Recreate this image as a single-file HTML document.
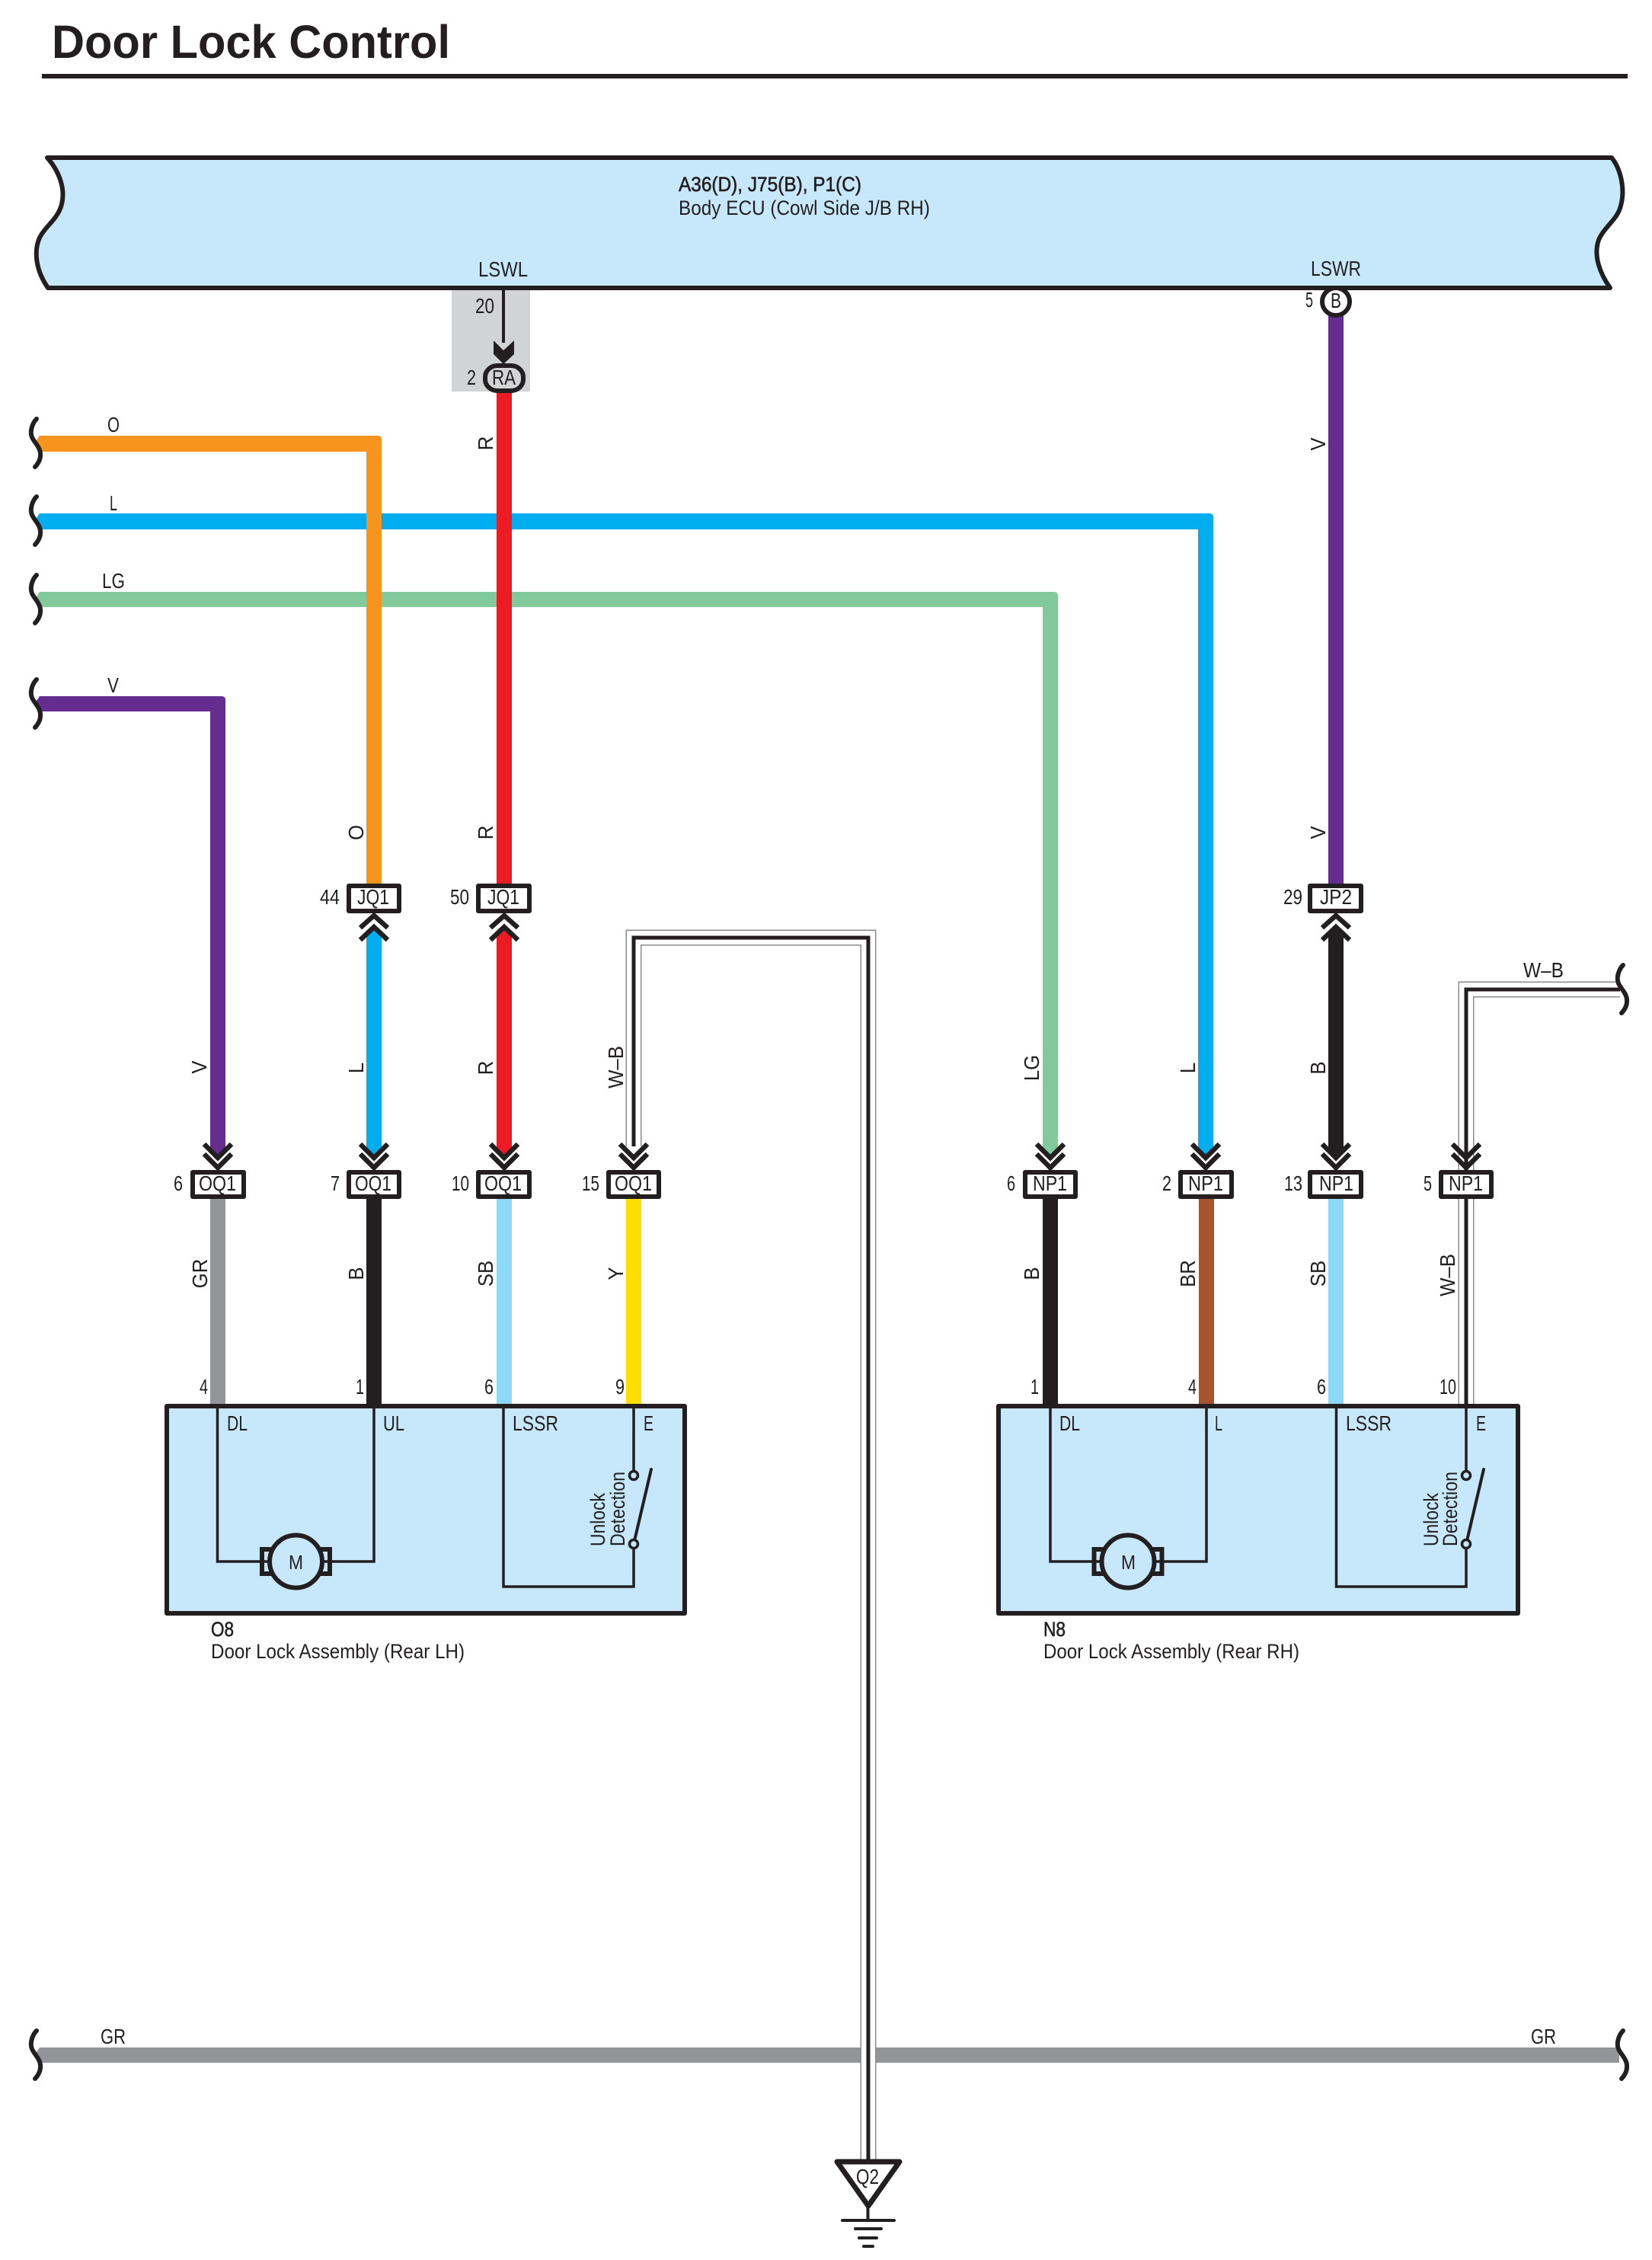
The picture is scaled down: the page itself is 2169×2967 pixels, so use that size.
<!DOCTYPE html>
<html lang="en">
<head>
<meta charset="utf-8">
<title>Door Lock Control</title>
<style>
html,body{margin:0;padding:0;background:#fff}
svg{display:block}
text{font-family:"Liberation Sans",Arial,sans-serif;font-size:28px;fill:#231f20}
</style>
</head>
<body>
<svg xmlns="http://www.w3.org/2000/svg" width="2169" height="2967" viewBox="0 0 2169 2967">
<defs>
<g id="dn" fill="none" stroke="#231f20" stroke-width="6.500"><polyline points="-18,1502 0,1520 18,1502"/><polyline points="-18,1515 0,1533 18,1515"/></g>
<g id="up" fill="none" stroke="#231f20" stroke-width="6.500"><polyline points="-18,1218 0,1202 18,1218"/><polyline points="-18,1234 0,1217 18,1234"/></g>
<path id="sq" fill="none" stroke="#231f20" stroke-width="6" stroke-linecap="round" d="M48 -32 C42 -26 39 -15 42 -8 C45 -1 54 6 53 16 C53 22 49 28 46 31"/>
<g id="motor">
<rect x="-44.500" y="-16" width="89" height="32" fill="none" stroke="#231f20" stroke-width="6"/>
<ellipse rx="34.500" ry="34.500" fill="#c7e8fb" stroke="#231f20" stroke-width="6"/>
</g>
</defs>

<!-- Title -->
<text x="68" y="76" font-weight="bold" style="font-size:61px" textLength="523" lengthAdjust="spacingAndGlyphs">Door Lock Control</text>
<rect x="55" y="97" width="2082" height="6" fill="#231f20"/>

<!-- Body ECU -->
<rect x="593" y="381" width="103" height="133" fill="#d1d3d4"/>
<path d="M62 207 H2116 C2128 222 2134 248 2128 270 C2124 288 2106 298 2099 315 C2092 335 2100 358 2114 378 H63 C47 355 44 330 52 312 C60 296 76 288 81 268 C86 248 78 225 62 207 Z" fill="#c7e8fb" stroke="#231f20" stroke-width="6" stroke-linejoin="round"/>
<text x="891" y="251" stroke="#231f20" stroke-width="0.6" style="font-size:27px" textLength="240" lengthAdjust="spacingAndGlyphs">A36(D), J75(B), P1(C)</text>
<text x="891" y="282" style="font-size:27px" textLength="330" lengthAdjust="spacingAndGlyphs">Body ECU (Cowl Side J/B RH)</text>
<text x="628" y="363" textLength="65" lengthAdjust="spacingAndGlyphs">LSWL</text>
<text x="1721" y="362" textLength="66" lengthAdjust="spacingAndGlyphs">LSWR</text>

<text x="624" y="411" textLength="25" lengthAdjust="spacingAndGlyphs">20</text>
<line x1="661" y1="381" x2="661" y2="450" stroke="#231f20" stroke-width="4"/>
<polygon points="648,447 661,460 675,447 675,465 661,478 648,465" fill="#231f20"/>

<!-- horizontal wires first -->
<path d="M52 674 H1588 Q1593 674 1593 679 V1506 L1583 1519 L1573 1506 V695 H54 L48 680 Z" fill="#00aeef"/>
<path d="M52 777 H1384 Q1389 777 1389 782 V1506 L1379 1519 L1369 1506 V797 H54 L48 783 Z" fill="#82ca9c"/>
<path d="M52 914 H291 Q296 914 296 919 V1506 L286 1519 L276 1506 V934 H54 L48 920 Z" fill="#662d91"/>
<path d="M52 572 H496 Q501 572 501 577 V1165 H481 V593 H54 L48 578 Z" fill="#f7941d"/>
<rect x="652" y="512" width="20" height="655" fill="#ed1c24"/>
<rect x="1744" y="410" width="20" height="755" fill="#662d91"/>
<path d="M52 2688 H2126 V2708 H54 L48 2694 Z" fill="#939598"/>

<!-- squiggles -->
<use href="#sq" transform="translate(0,582)"/>
<use href="#sq" transform="translate(0,684)"/>
<use href="#sq" transform="translate(0,787)"/>
<use href="#sq" transform="translate(0,924)"/>
<use href="#sq" transform="translate(0,2698)"/>
<use href="#sq" transform="translate(2083,2698)"/>

<!-- RA / B terminals -->
<rect x="637" y="480" width="50" height="33" rx="16" ry="15" fill="#d1d3d4" stroke="#231f20" stroke-width="6"/>
<text x="646" y="505" textLength="31" lengthAdjust="spacingAndGlyphs">RA</text>
<text x="613" y="505" textLength="12" lengthAdjust="spacingAndGlyphs">2</text>
<circle cx="1754" cy="396" r="18" fill="#fff" stroke="#231f20" stroke-width="6"/>
<text x="1747" y="404" textLength="14" lengthAdjust="spacingAndGlyphs">B</text>
<text x="1714" y="403" textLength="10" lengthAdjust="spacingAndGlyphs">5</text>

<!-- mid wires between J and O/N connectors -->
<path d="M481 1230 L491 1221 L501 1230 V1506 L491 1519 L481 1506 Z" fill="#00aeef"/>
<path d="M652 1230 L662 1221 L672 1230 V1506 L662 1519 L652 1506 Z" fill="#ed1c24"/>
<path d="M1744 1225 L1754 1213 L1764 1225 V1506 L1754 1519 L1744 1506 Z" fill="#231f20"/>

<!-- W-B wires -->
<g fill="none" stroke-linejoin="miter">
<path d="M832 1505 V1231 H1140 V2838" stroke="#8a8c8e" stroke-width="21"/>
<path d="M832 1505 V1231 H1140 V2838" stroke="#fff" stroke-width="18"/>
<path d="M832 1505 V1231 H1140 V2838" stroke="#231f20" stroke-width="5"/>
<path d="M2127 1299 H1925 V1845" stroke="#8a8c8e" stroke-width="21"/>
<path d="M2127 1299 H1925 V1845" stroke="#fff" stroke-width="18"/>
<path d="M2127 1299 H1925 V1845" stroke="#231f20" stroke-width="5"/>
</g>
<use href="#sq" transform="translate(2083,1299)"/>

<!-- chevrons -->
<use href="#dn" x="286"/><use href="#dn" x="491"/><use href="#dn" x="662"/><use href="#dn" x="832"/>
<use href="#dn" x="1379"/><use href="#dn" x="1583"/><use href="#dn" x="1754"/><use href="#dn" x="1925"/>
<use href="#up" x="491"/><use href="#up" x="662"/><use href="#up" x="1754"/>

<!-- stubs below connectors -->
<rect x="276" y="1570" width="20" height="276" fill="#939598"/>
<rect x="481" y="1570" width="20" height="276" fill="#231f20"/>
<rect x="652" y="1570" width="20" height="276" fill="#8dd7f7"/>
<rect x="822" y="1570" width="20" height="276" fill="#ffde00"/>
<rect x="1369" y="1570" width="20" height="276" fill="#231f20"/>
<rect x="1574" y="1570" width="20" height="276" fill="#a7532f"/>
<rect x="1744" y="1570" width="20" height="276" fill="#8dd7f7"/>

<!-- connectors -->
<g fill="#fff" stroke="#231f20" stroke-width="6" stroke-linejoin="round">
<rect x="458" y="1163" width="66" height="33"/>
<rect x="628" y="1163" width="67" height="33"/>
<rect x="1720" y="1163" width="67" height="33"/>
<rect x="253" y="1539" width="67" height="32"/>
<rect x="458" y="1539" width="66" height="32"/>
<rect x="628" y="1539" width="67" height="32"/>
<rect x="799" y="1539" width="66" height="32"/>
<rect x="1346" y="1539" width="66" height="32"/>
<rect x="1550" y="1539" width="67" height="32"/>
<rect x="1720" y="1539" width="67" height="32"/>
<rect x="1892" y="1539" width="66" height="32"/>
</g>
<text x="469" y="1187" textLength="42" lengthAdjust="spacingAndGlyphs">JQ1</text>
<text x="640" y="1187" textLength="42" lengthAdjust="spacingAndGlyphs">JQ1</text>
<text x="1733" y="1187" textLength="42" lengthAdjust="spacingAndGlyphs">JP2</text>
<text x="420" y="1187" textLength="26" lengthAdjust="spacingAndGlyphs">44</text>
<text x="591" y="1187" textLength="25" lengthAdjust="spacingAndGlyphs">50</text>
<text x="1685" y="1187" textLength="25" lengthAdjust="spacingAndGlyphs">29</text>
<text x="261" y="1563" textLength="49" lengthAdjust="spacingAndGlyphs">OQ1</text>
<text x="466" y="1563" textLength="48" lengthAdjust="spacingAndGlyphs">OQ1</text>
<text x="636" y="1563" textLength="49" lengthAdjust="spacingAndGlyphs">OQ1</text>
<text x="807" y="1563" textLength="49" lengthAdjust="spacingAndGlyphs">OQ1</text>
<text x="1356" y="1563" textLength="45" lengthAdjust="spacingAndGlyphs">NP1</text>
<text x="1560" y="1563" textLength="46" lengthAdjust="spacingAndGlyphs">NP1</text>
<text x="1732" y="1563" textLength="45" lengthAdjust="spacingAndGlyphs">NP1</text>
<text x="1902" y="1563" textLength="45" lengthAdjust="spacingAndGlyphs">NP1</text>
<text x="228" y="1563" textLength="12" lengthAdjust="spacingAndGlyphs">6</text>
<text x="434" y="1563" textLength="12" lengthAdjust="spacingAndGlyphs">7</text>
<text x="593" y="1563" textLength="23" lengthAdjust="spacingAndGlyphs">10</text>
<text x="764" y="1563" textLength="23" lengthAdjust="spacingAndGlyphs">15</text>
<text x="1322" y="1563" textLength="11" lengthAdjust="spacingAndGlyphs">6</text>
<text x="1526" y="1563" textLength="12" lengthAdjust="spacingAndGlyphs">2</text>
<text x="1686" y="1563" textLength="24" lengthAdjust="spacingAndGlyphs">13</text>
<text x="1869" y="1563" textLength="11" lengthAdjust="spacingAndGlyphs">5</text>

<!-- wire labels horizontal -->
<text x="141" y="567" textLength="16" lengthAdjust="spacingAndGlyphs">O</text>
<text x="144" y="670" textLength="10" lengthAdjust="spacingAndGlyphs">L</text>
<text x="134" y="772" textLength="30" lengthAdjust="spacingAndGlyphs">LG</text>
<text x="141" y="909" textLength="15" lengthAdjust="spacingAndGlyphs">V</text>
<text x="132" y="2683" textLength="33" lengthAdjust="spacingAndGlyphs">GR</text>
<text x="2010" y="2683" textLength="33" lengthAdjust="spacingAndGlyphs">GR</text>
<text x="2000" y="1283" textLength="53" lengthAdjust="spacingAndGlyphs">W–B</text>

<!-- wire labels rotated -->
<g text-anchor="middle">
<text transform="translate(647,582) rotate(-90) scale(.92,1)">R</text>
<text transform="translate(1740,583) rotate(-90) scale(.92,1)">V</text>
<text transform="translate(477,1093) rotate(-90) scale(.92,1)">O</text>
<text transform="translate(647,1093) rotate(-90) scale(.92,1)">R</text>
<text transform="translate(1740,1093) rotate(-90) scale(.92,1)">V</text>
<text transform="translate(271,1401) rotate(-90) scale(.92,1)">V</text>
<text transform="translate(477,1402) rotate(-90) scale(.92,1)">L</text>
<text transform="translate(647,1402) rotate(-90) scale(.92,1)">R</text>
<text transform="translate(818,1401) rotate(-90) scale(.92,1)">W–B</text>
<text transform="translate(1364,1402) rotate(-90) scale(.92,1)">LG</text>
<text transform="translate(1569,1402) rotate(-90) scale(.92,1)">L</text>
<text transform="translate(1740,1402) rotate(-90) scale(.92,1)">B</text>
<text transform="translate(272,1672) rotate(-90) scale(.92,1)">GR</text>
<text transform="translate(477,1672) rotate(-90) scale(.92,1)">B</text>
<text transform="translate(647,1672) rotate(-90) scale(.92,1)">SB</text>
<text transform="translate(818,1672) rotate(-90) scale(.92,1)">Y</text>
<text transform="translate(1364,1672) rotate(-90) scale(.92,1)">B</text>
<text transform="translate(1569,1672) rotate(-90) scale(.92,1)">BR</text>
<text transform="translate(1740,1672) rotate(-90) scale(.92,1)">SB</text>
<text transform="translate(1910,1674) rotate(-90) scale(.92,1)">W–B</text>
</g>

<!-- pin numbers above boxes -->
<text x="262" y="1830" textLength="11" lengthAdjust="spacingAndGlyphs">4</text>
<text x="467" y="1830" textLength="11" lengthAdjust="spacingAndGlyphs">1</text>
<text x="636" y="1830" textLength="12" lengthAdjust="spacingAndGlyphs">6</text>
<text x="808" y="1830" textLength="12" lengthAdjust="spacingAndGlyphs">9</text>
<text x="1353" y="1830" textLength="11" lengthAdjust="spacingAndGlyphs">1</text>
<text x="1560" y="1830" textLength="11" lengthAdjust="spacingAndGlyphs">4</text>
<text x="1729" y="1830" textLength="12" lengthAdjust="spacingAndGlyphs">6</text>
<text x="1890" y="1830" textLength="22" lengthAdjust="spacingAndGlyphs">10</text>

<!-- O8 box -->
<rect x="219" y="1846" width="680" height="272" fill="#c7e8fb" stroke="#231f20" stroke-width="6" stroke-linejoin="round"/>
<g fill="none" stroke="#231f20" stroke-width="3.500">
<path d="M285.500 1846 V2050 H491 V1846"/>
<path d="M661 1846 V2083 H832 V1846"/>
</g>
<use href="#motor" transform="translate(388.500,2050)"/>
<text x="379" y="2060" style="font-size:26px" textLength="19" lengthAdjust="spacingAndGlyphs">M</text>
<rect x="826" y="1941" width="12" height="82" fill="#c7e8fb"/>
<line x1="832" y1="2027" x2="855" y2="1929" stroke="#231f20" stroke-width="4" stroke-linecap="round"/>
<circle cx="832" cy="1937" r="5.500" fill="#c7e8fb" stroke="#231f20" stroke-width="3.500"/>
<circle cx="832" cy="2027" r="5.500" fill="#c7e8fb" stroke="#231f20" stroke-width="3.500"/>
<text x="298" y="1878" textLength="27" lengthAdjust="spacingAndGlyphs">DL</text>
<text x="503" y="1878" textLength="28" lengthAdjust="spacingAndGlyphs">UL</text>
<text x="673" y="1878" textLength="60" lengthAdjust="spacingAndGlyphs">LSSR</text>
<text x="845" y="1878" textLength="13" lengthAdjust="spacingAndGlyphs">E</text>
<text transform="translate(794,2030) rotate(-90)" style="font-size:27px" textLength="70" lengthAdjust="spacingAndGlyphs">Unlock</text>
<text transform="translate(820,2030) rotate(-90)" style="font-size:27px" textLength="98" lengthAdjust="spacingAndGlyphs">Detection</text>
<text x="277" y="2148" stroke="#231f20" stroke-width="0.6" style="font-size:27px" textLength="30" lengthAdjust="spacingAndGlyphs">O8</text>
<text x="277" y="2177" style="font-size:27px" textLength="333" lengthAdjust="spacingAndGlyphs">Door Lock Assembly (Rear LH)</text>

<!-- N8 box -->
<rect x="1311" y="1846" width="682" height="272" fill="#c7e8fb" stroke="#231f20" stroke-width="6" stroke-linejoin="round"/>
<g fill="none" stroke="#231f20" stroke-width="3.500">
<path d="M1379 1846 V2050 H1584 V1846"/>
<path d="M1754.500 1846 V2083 H1925 V1846"/>
</g>
<use href="#motor" transform="translate(1481,2050)"/>
<text x="1472" y="2060" style="font-size:26px" textLength="19" lengthAdjust="spacingAndGlyphs">M</text>
<rect x="1919" y="1941" width="12" height="82" fill="#c7e8fb"/>
<line x1="1925" y1="2027" x2="1948" y2="1929" stroke="#231f20" stroke-width="4" stroke-linecap="round"/>
<circle cx="1925" cy="1937" r="5.500" fill="#c7e8fb" stroke="#231f20" stroke-width="3.500"/>
<circle cx="1925" cy="2027" r="5.500" fill="#c7e8fb" stroke="#231f20" stroke-width="3.500"/>
<text x="1391" y="1878" textLength="27" lengthAdjust="spacingAndGlyphs">DL</text>
<text x="1595" y="1878" textLength="10" lengthAdjust="spacingAndGlyphs">L</text>
<text x="1767" y="1878" textLength="60" lengthAdjust="spacingAndGlyphs">LSSR</text>
<text x="1938" y="1878" textLength="13" lengthAdjust="spacingAndGlyphs">E</text>
<text transform="translate(1888,2030) rotate(-90)" style="font-size:27px" textLength="70" lengthAdjust="spacingAndGlyphs">Unlock</text>
<text transform="translate(1913,2030) rotate(-90)" style="font-size:27px" textLength="98" lengthAdjust="spacingAndGlyphs">Detection</text>
<text x="1370" y="2148" stroke="#231f20" stroke-width="0.6" style="font-size:27px" textLength="29" lengthAdjust="spacingAndGlyphs">N8</text>
<text x="1370" y="2177" style="font-size:27px" textLength="336" lengthAdjust="spacingAndGlyphs">Door Lock Assembly (Rear RH)</text>

<!-- Ground -->
<polygon points="1099,2838 1181,2838 1140,2896" fill="#fff" stroke="#231f20" stroke-width="7" stroke-linejoin="round"/>
<text x="1124" y="2867" textLength="30" lengthAdjust="spacingAndGlyphs">Q2</text>
<g stroke="#231f20" stroke-linecap="round" stroke-width="4">
<line x1="1139.500" y1="2897" x2="1139.500" y2="2915"/>
<line x1="1106" y1="2915" x2="1174" y2="2915"/>
<line x1="1123" y1="2926" x2="1157" y2="2926"/>
<line x1="1128" y1="2938" x2="1151" y2="2938"/>
<line x1="1134" y1="2949" x2="1146" y2="2949"/>
</g>
</svg>
</body>
</html>
